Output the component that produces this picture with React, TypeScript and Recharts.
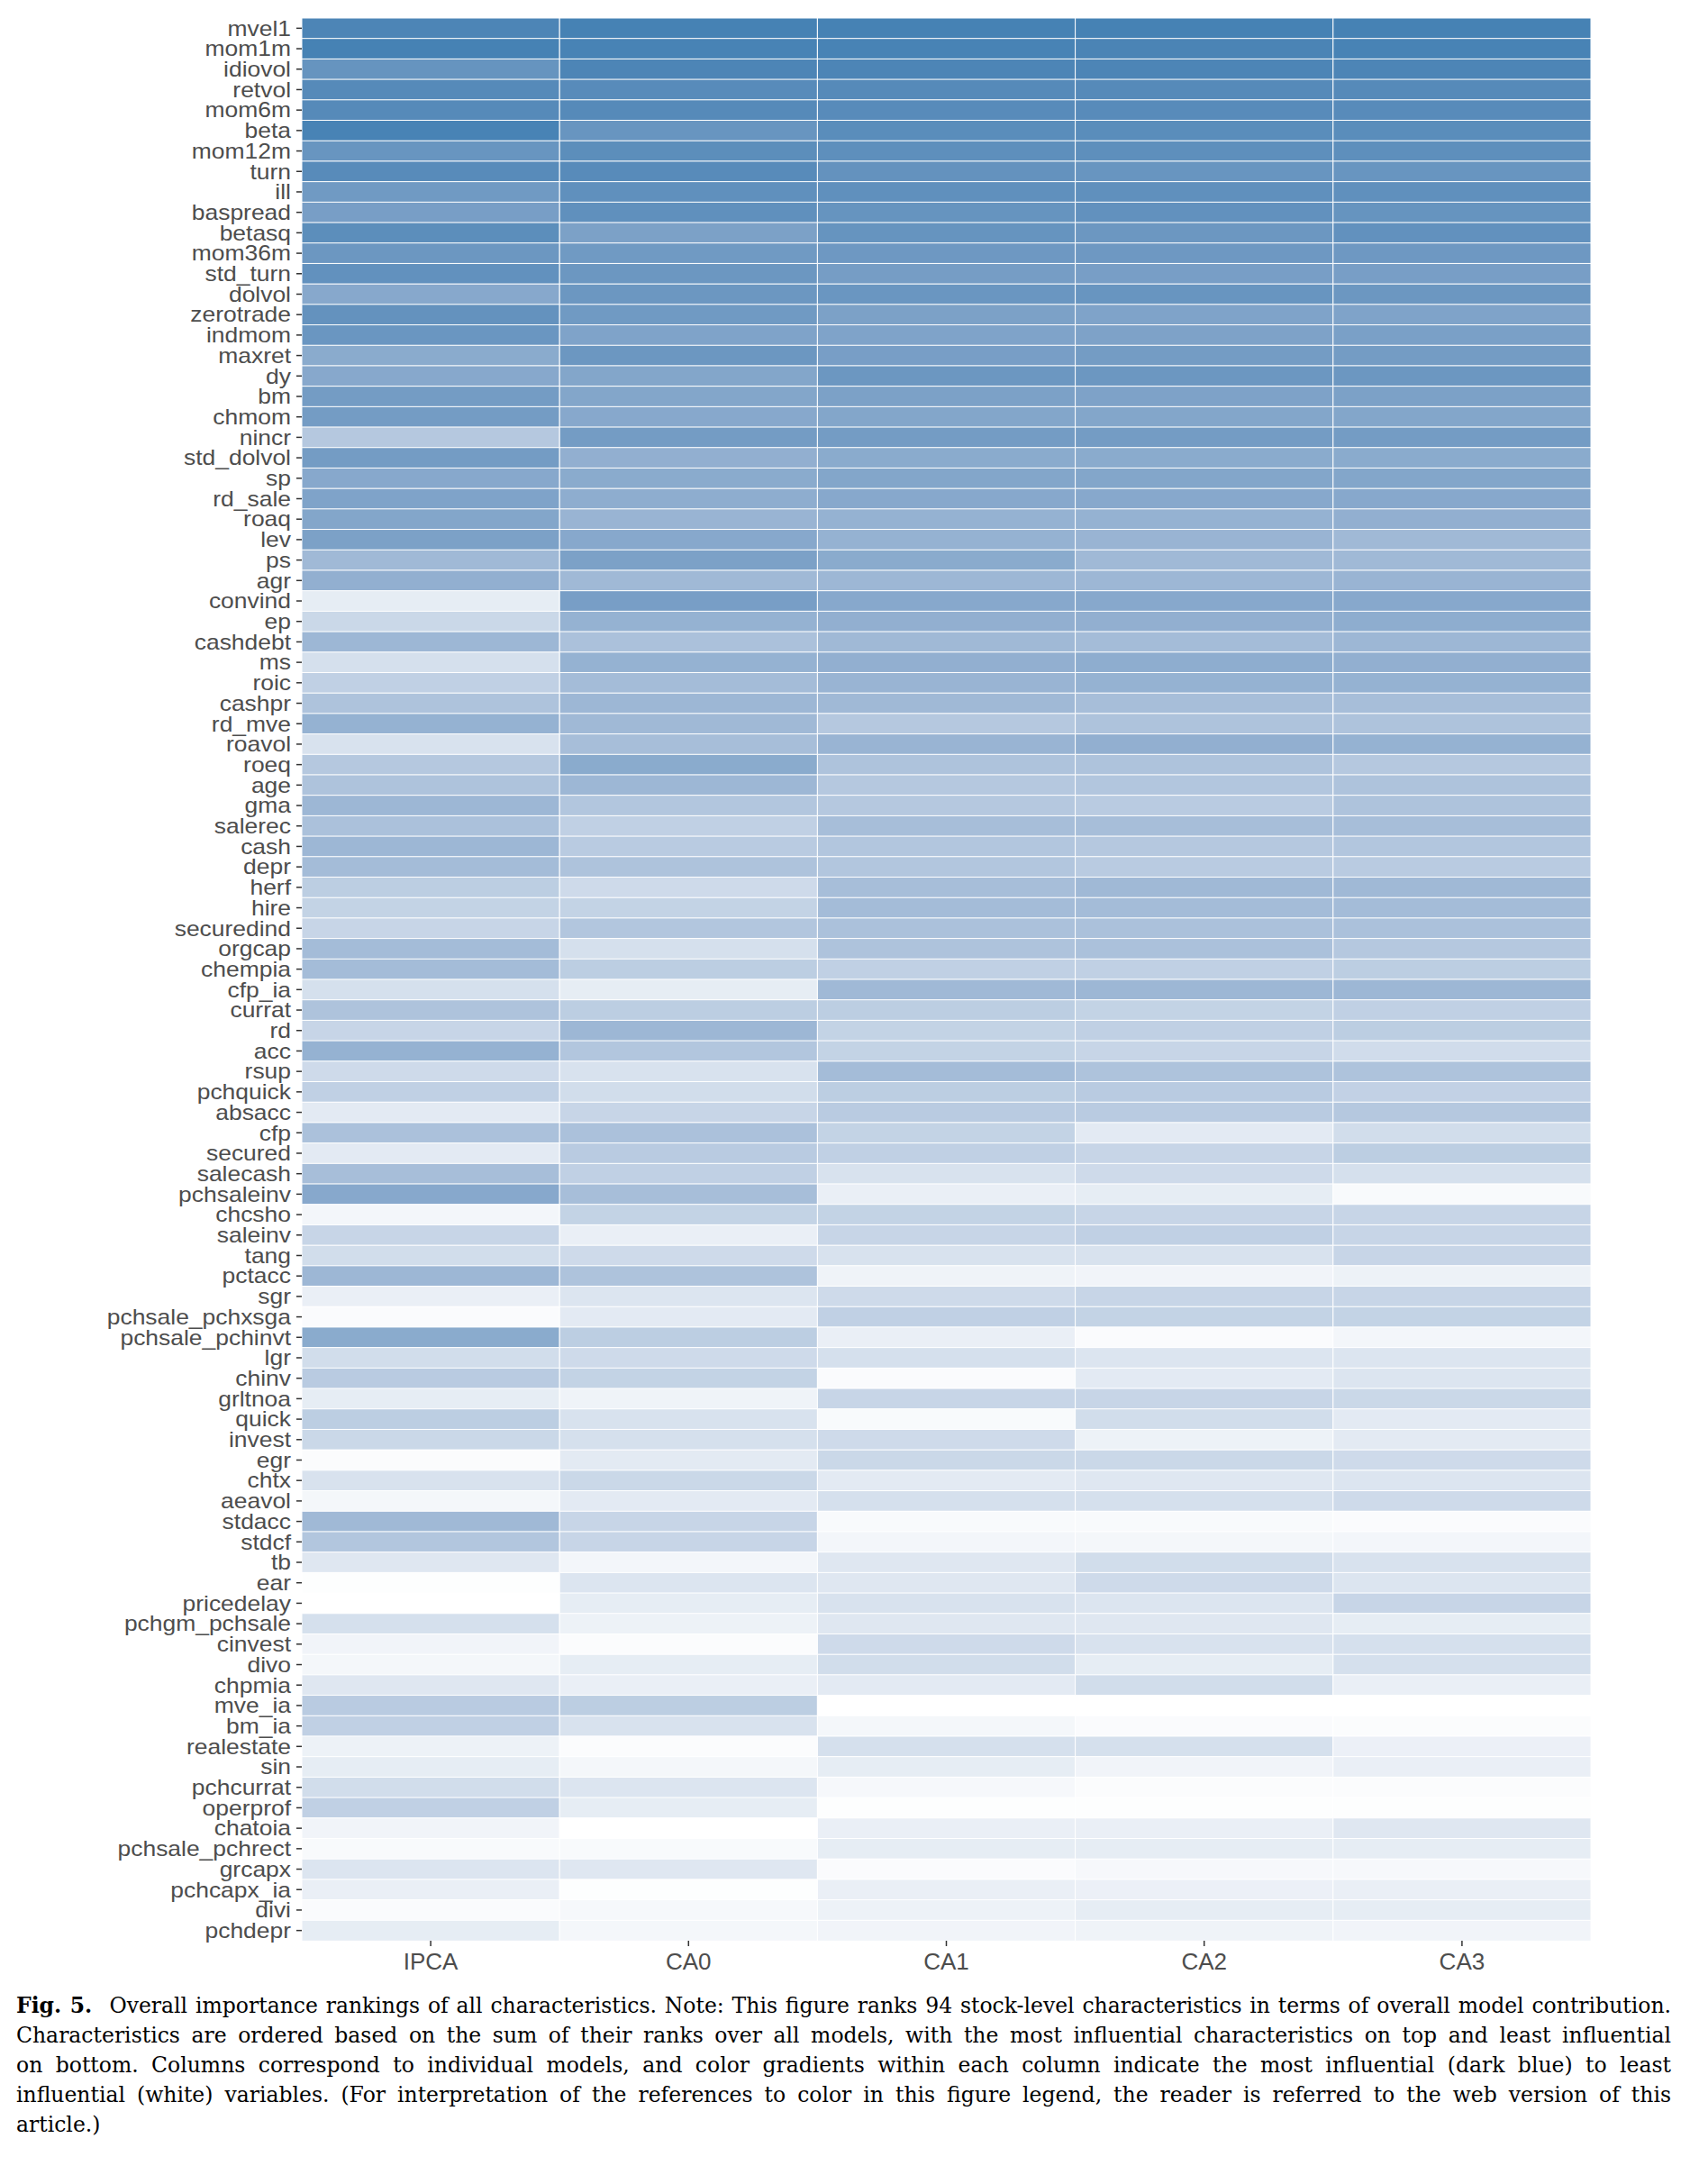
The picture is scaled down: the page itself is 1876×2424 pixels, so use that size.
import React from "react";
import { BarChart, Bar, XAxis, YAxis, Cell } from "recharts";

// characteristics, top (most influential overall) to bottom
const characteristics = [
  "mvel1", "mom1m", "idiovol", "retvol", "mom6m", "beta", "mom12m", "turn", "ill", "baspread",
  "betasq", "mom36m", "std_turn", "dolvol", "zerotrade", "indmom", "maxret", "dy", "bm", "chmom",
  "nincr", "std_dolvol", "sp", "rd_sale", "roaq", "lev", "ps", "agr", "convind", "ep",
  "cashdebt", "ms", "roic", "cashpr", "rd_mve", "roavol", "roeq", "age", "gma", "salerec",
  "cash", "depr", "herf", "hire", "securedind", "orgcap", "chempia", "cfp_ia", "currat", "rd",
  "acc", "rsup", "pchquick", "absacc", "cfp", "secured", "salecash", "pchsaleinv", "chcsho", "saleinv",
  "tang", "pctacc", "sgr", "pchsale_pchxsga", "pchsale_pchinvt", "lgr", "chinv", "grltnoa", "quick", "invest",
  "egr", "chtx", "aeavol", "stdacc", "stdcf", "tb", "ear", "pricedelay", "pchgm_pchsale", "cinvest",
  "divo", "chpmia", "mve_ia", "bm_ia", "realestate", "sin", "pchcurrat", "operprof", "chatoia", "pchsale_pchrect",
  "grcapx", "pchcapx_ia", "divi", "pchdepr",
];

const models = ["IPCA", "CA0", "CA1", "CA2", "CA3"];

// importance shading per model, 100 = most influential, 0 = least
const ipca = [
  97, 100, 85, 93, 93, 99, 84, 92, 80, 76,
  90, 82, 87, 68, 86, 83, 66, 68, 78, 78,
  42, 78, 68, 72, 70, 74, 54, 62, 14, 30,
  56, 24, 36, 46, 60, 22, 42, 46, 56, 48,
  56, 52, 38, 34, 32, 52, 52, 24, 46, 32,
  60, 28, 36, 16, 48, 16, 50, 68, 7, 32,
  26, 56, 12, 3, 66, 26, 40, 14, 38, 30,
  2, 22, 6, 54, 44, 18, 1, 0, 24, 8,
  6, 18, 40, 36, 10, 14, 26, 36, 8, 4,
  20, 12, 3, 14,
];
const ca0 = [
  100, 99, 97, 92, 93, 84, 90, 92, 88, 88,
  74, 80, 82, 82, 80, 72, 82, 70, 70, 68,
  78, 62, 66, 64, 58, 68, 74, 54, 76, 60,
  48, 60, 52, 56, 54, 50, 66, 56, 44, 36,
  40, 46, 28, 34, 44, 24, 38, 14, 38, 56,
  44, 22, 26, 32, 48, 40, 36, 50, 34, 12,
  28, 46, 20, 16, 38, 28, 34, 9, 22, 24,
  16, 30, 16, 32, 32, 7, 20, 14, 10, 2,
  14, 12, 38, 22, 2, 6, 20, 14, 0, 4,
  18, 1, 5, 6,
];
const ca1 = [
  100, 99, 97, 93, 92, 91, 89, 86, 88, 85,
  85, 81, 77, 83, 74, 72, 76, 82, 74, 70,
  78, 66, 70, 68, 60, 60, 66, 56, 68, 62,
  54, 62, 58, 54, 42, 58, 46, 42, 42, 50,
  44, 44, 50, 52, 48, 46, 36, 54, 38, 34,
  34, 52, 38, 40, 34, 36, 22, 12, 34, 32,
  22, 9, 28, 36, 12, 24, 3, 32, 4, 28,
  30, 16, 24, 4, 7, 18, 18, 22, 18, 28,
  26, 16, 0, 6, 24, 14, 5, 1, 12, 14,
  3, 12, 10, 8,
];
const ca2 = [
  100, 98, 97, 93, 92, 91, 89, 84, 88, 87,
  82, 81, 76, 84, 72, 73, 78, 82, 73, 70,
  78, 66, 70, 68, 60, 58, 54, 56, 68, 62,
  52, 64, 60, 50, 46, 62, 46, 44, 40, 50,
  42, 40, 54, 52, 48, 48, 36, 56, 34, 36,
  32, 46, 40, 40, 16, 32, 28, 14, 32, 36,
  22, 8, 32, 34, 3, 20, 16, 32, 26, 10,
  30, 18, 24, 4, 6, 26, 28, 20, 18, 22,
  14, 26, 0, 3, 24, 8, 2, 1, 12, 14,
  5, 11, 14, 9,
];
const ca3 = [
  100, 99, 97, 93, 92, 91, 89, 84, 88, 85,
  87, 81, 76, 82, 72, 75, 78, 82, 74, 70,
  78, 66, 70, 68, 62, 54, 54, 58, 68, 64,
  56, 62, 60, 50, 46, 60, 42, 46, 46, 50,
  44, 40, 54, 52, 48, 42, 38, 56, 36, 38,
  27, 46, 35, 42, 26, 38, 24, 4, 32, 32,
  32, 10, 32, 34, 7, 20, 20, 30, 16, 16,
  28, 20, 28, 3, 7, 22, 20, 32, 14, 24,
  24, 12, 0, 2, 11, 12, 2, 1, 18, 14,
  5, 12, 14, 8,
];

const shading: Record<string, number[]> = { IPCA: ipca, CA0: ca0, CA1: ca1, CA2: ca2, CA3: ca3 };

// white -> steelblue, interpolated in CIELAB like ggplot's gradient
const toLin = (c: number) => {
  const v = c / 255;
  return v <= 0.04045 ? v / 12.92 : Math.pow((v + 0.055) / 1.055, 2.4);
};
const fromLin = (c: number) => {
  const v = c <= 0.0031308 ? 12.92 * c : 1.055 * Math.pow(c, 1 / 2.4) - 0.055;
  return Math.round(Math.max(0, Math.min(1, v)) * 255);
};
const rgbToLab = (r: number, g: number, b: number) => {
  const R = toLin(r), G = toLin(g), B = toLin(b);
  const x = (0.4124 * R + 0.3576 * G + 0.1805 * B) / 0.95047;
  const y = 0.2126 * R + 0.7152 * G + 0.0722 * B;
  const z = (0.0193 * R + 0.1192 * G + 0.9505 * B) / 1.08883;
  const f = (t: number) => (t > 0.008856 ? Math.cbrt(t) : 7.787 * t + 16 / 116);
  return [116 * f(y) - 16, 500 * (f(x) - f(y)), 200 * (f(y) - f(z))];
};
const labToRgb = (L: number, a: number, b: number) => {
  const fy = (L + 16) / 116;
  const fx = fy + a / 500;
  const fz = fy - b / 200;
  const inv = (t: number) => (t * t * t > 0.008856 ? t * t * t : (t - 16 / 116) / 7.787);
  const x = inv(fx) * 0.95047, y = inv(fy), z = inv(fz) * 1.08883;
  const R = 3.2406 * x - 1.5372 * y - 0.4986 * z;
  const G = -0.9689 * x + 1.8758 * y + 0.0415 * z;
  const B = 0.0557 * x - 0.204 * y + 1.057 * z;
  return `rgb(${fromLin(R)},${fromLin(G)},${fromLin(B)})`;
};
const LOW = rgbToLab(255, 255, 255);
const HIGH = rgbToLab(70, 130, 180);
const ramp = (v: number) => {
  const t = v / 100;
  return labToRgb(
    LOW[0] + (HIGH[0] - LOW[0]) * t,
    LOW[1] + (HIGH[1] - LOW[1]) * t,
    LOW[2] + (HIGH[2] - LOW[2]) * t
  );
};

// one unit-wide segment per model, stacked into a row of tiles
const tableRows = characteristics.map((name) => {
  const row: Record<string, string | number> = { name };
  models.forEach((m) => (row[m] = 1));
  return row;
});

const SANS = "Liberation Sans, Arial, sans-serif";
const tickLine = { stroke: "#333333", strokeWidth: 1.5 };

// the reference's row labels are drawn a little wide, so stretch them
const RowTick = (props: any) => {
  const { x, y, payload } = props;
  return (
    <text
      transform={`translate(${x},${y}) scale(1.15,1)`}
      textAnchor="end"
      dy="0.36em"
      fill="#4d4d4d"
      fontSize={23}
      fontFamily={SANS}
    >
      {payload.value}
    </text>
  );
};

const captionLines = [
  "Overall importance rankings of all characteristics. Note: This figure ranks 94 stock-level characteristics in terms of overall model contribution.",
  "Characteristics are ordered based on the sum of their ranks over all models, with the most influential characteristics on top and least influential",
  "on bottom. Columns correspond to individual models, and color gradients within each column indicate the most influential (dark blue) to least",
  "influential (white) variables. (For interpretation of the references to color in this figure legend, the reader is referred to the web version of this",
];

const App = () => {
  return (
    <div style={{ width: 1860 }}>
      <BarChart
        width={1860}
        height={2200}
        data={tableRows}
        layout="vertical"
        barCategoryGap={0}
        margin={{ top: 12, right: 102, bottom: 0, left: 0 }}
      >
        <XAxis
          type="number"
          domain={[0, models.length]}
          ticks={models.map((_, i) => i + 0.5)}
          tickFormatter={(v: number) => models[Math.floor(v)]}
          axisLine={false}
          tickLine={tickLine}
          tickSize={6}
          tickMargin={8}
          tick={{ fill: "#4d4d4d", fontSize: 26, fontFamily: SANS }}
          height={54}
        />
        <YAxis
          type="category"
          dataKey="name"
          width={327}
          interval={0}
          axisLine={false}
          tickLine={tickLine}
          tickSize={6}
          tickMargin={6}
          tick={(p: any) => <RowTick {...p} />}
        />
        {models.map((m) => (
          <Bar key={m} dataKey={m} stackId="tiles" stroke="#ffffff" strokeWidth={1} isAnimationActive={false}>
            {characteristics.map((c, i) => (
              <Cell key={c} fill={ramp(shading[m][i])} />
            ))}
          </Bar>
        ))}
      </BarChart>
      <div
        style={{
          marginTop: 2,
          marginLeft: 10,
          width: 1837,
          fontFamily: "DejaVu Serif, serif",
          fontSize: 23.5,
          lineHeight: "33px",
          color: "#000",
        }}
      >
        {captionLines.map((line, i) => (
          <div key={i} style={{ textAlign: "justify", textAlignLast: "justify", whiteSpace: "nowrap" }}>
            {i === 0 ? <b>Fig. 5.&nbsp; </b> : null}
            {line}
          </div>
        ))}
        <div>article.)</div>
      </div>
    </div>
  );
};

export default App;
